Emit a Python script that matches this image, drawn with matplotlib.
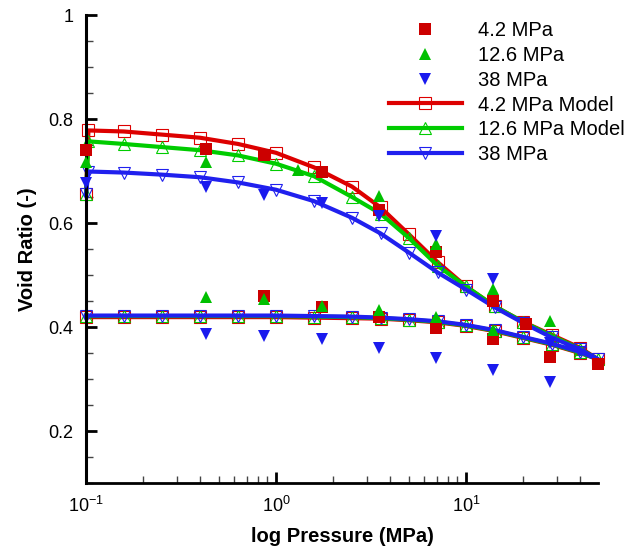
import matplotlib
matplotlib.use("Agg")
import matplotlib.pyplot as plt
from matplotlib.ticker import LogLocator, MultipleLocator, LogFormatterSciNotation

plt.rcParams['font.family'] = ['Liberation Sans', 'DejaVu Sans']
plt.rcParams['mathtext.fontset'] = 'custom'
plt.rcParams['mathtext.rm'] = 'Liberation Sans'

# ---- experimental data (pressure MPa, void ratio) ----
red_P = [0.1, 0.43, 0.86, 1.74, 3.47, 6.93, 13.9, 20.6, 27.8, 49.4, 13.9, 6.93, 3.47, 1.74, 0.86]
red_e = [0.740, 0.743, 0.731, 0.698, 0.625, 0.545, 0.450, 0.406, 0.343, 0.329, 0.377, 0.399, 0.419, 0.439, 0.460]

green_P = [0.1, 0.43, 1.31, 3.47, 6.93, 13.8, 27.7, 13.8, 6.93, 3.47, 1.74, 0.86, 0.43]
green_e = [0.718, 0.717, 0.702, 0.651, 0.560, 0.473, 0.411, 0.394, 0.419, 0.432, 0.441, 0.454, 0.457]

blue_P = [0.1, 0.43, 0.86, 1.74, 3.47, 6.93, 13.8, 27.7, 27.7, 13.8, 6.93, 3.47, 1.74, 0.86, 0.43]
blue_e = [0.676, 0.670, 0.654, 0.638, 0.613, 0.575, 0.492, 0.370, 0.295, 0.318, 0.340, 0.359, 0.376, 0.382, 0.387]

# ---- model curves: loading path then unloading path ----
load_P = [0.1, 0.103, 0.158, 0.251, 0.398, 0.631, 1.0, 1.585, 2.512, 3.548, 5.012, 7.079,
          10.0, 14.13, 19.95, 28.18, 39.81, 49.5]
red_load = [0.655, 0.778, 0.776, 0.770, 0.764, 0.752, 0.735, 0.707, 0.670, 0.630, 0.578, 0.525,
            0.478, 0.440, 0.410, 0.385, 0.360, 0.338]
green_load = [0.655, 0.757, 0.752, 0.746, 0.740, 0.730, 0.714, 0.690, 0.650, 0.618, 0.571, 0.518,
              0.478, 0.440, 0.410, 0.383, 0.358, 0.338]
blue_load = [0.655, 0.699, 0.697, 0.693, 0.688, 0.678, 0.664, 0.642, 0.610, 0.580, 0.543, 0.505,
             0.472, 0.438, 0.408, 0.380, 0.357, 0.338]

unload_P = [39.81, 28.18, 19.95, 14.13, 10.0, 7.079, 5.012, 3.548, 2.512, 1.585, 1.0,
            0.631, 0.398, 0.251, 0.158, 0.1]
red_unload = [0.350, 0.366, 0.379, 0.392, 0.402, 0.409, 0.413, 0.416, 0.417, 0.418, 0.419,
              0.419, 0.419, 0.419, 0.419, 0.419]
green_unload = [0.351, 0.367, 0.380, 0.393, 0.403, 0.410, 0.414, 0.417, 0.419, 0.420, 0.421,
                0.421, 0.421, 0.421, 0.421, 0.421]
blue_unload = [0.352, 0.368, 0.381, 0.394, 0.404, 0.411, 0.415, 0.418, 0.420, 0.421, 0.422,
               0.422, 0.422, 0.422, 0.422, 0.422]

labels = ['4.2 MPa', '12.6 MPa', '38 MPa', '4.2 MPa Model', '12.6 MPa Model', '38 MPa']

RED = '#dd0000'
GREEN = '#00cc00'
BLUE = '#2020ee'

fig = plt.figure(figsize=(6.34, 5.51), dpi=100)
ax = fig.add_axes([86/634, 1-483/551, (598-86)/634, (483-15)/551])

lw = 3.0
mk = dict(markersize=8.5, markerfacecolor='none', markeredgewidth=0.8)
hm, = ax.plot(load_P + unload_P, red_load + red_unload, color=RED, lw=lw, marker='s',
              markeredgecolor=RED, zorder=2, clip_on=False, **mk)
hg, = ax.plot(load_P + unload_P, green_load + green_unload, color=GREEN, lw=lw, marker='^',
              markeredgecolor=GREEN, zorder=2, clip_on=False, **mk)
hb, = ax.plot(load_P + unload_P, blue_load + blue_unload, color=BLUE, lw=lw, marker='v',
              markeredgecolor=BLUE, zorder=2, clip_on=False, **mk)

sr, = ax.plot(red_P, red_e, ls='none', marker='s', markersize=8.5, color='#cc0000',
              markeredgewidth=0, zorder=4, clip_on=False)
sg, = ax.plot(green_P, green_e, ls='none', marker='^', markersize=9, color='#00c000',
              markeredgewidth=0, zorder=4, clip_on=False)
sb, = ax.plot(blue_P, blue_e, ls='none', marker='v', markersize=9, color='#1a1aee',
              markeredgewidth=0, zorder=4, clip_on=False)

ax.set_xscale('log')
ax.set_xlim(0.1, 49.5)
ax.set_ylim(0.1, 1.0)

ax.xaxis.set_major_locator(LogLocator(base=10, numticks=10))
ax.xaxis.set_minor_locator(LogLocator(base=10, subs=range(2, 10), numticks=20))
ax.xaxis.set_major_formatter(LogFormatterSciNotation())
ax.yaxis.set_minor_locator(MultipleLocator(0.05))
ax.set_yticks([0.2, 0.4, 0.6, 0.8, 1.0])
ax.set_yticklabels(['0.2', '0.4', '0.6', '0.8', '1'])

ax.tick_params(which='major', direction='in', length=8, width=2, labelsize=13, color='black')
ax.tick_params(which='minor', direction='in', length=5, width=1, color='#444444')
ax.tick_params(axis='x', which='major', pad=9)
ax.tick_params(axis='y', which='major', pad=9)

for s in ['top', 'right']:
    ax.spines[s].set_visible(False)
ax.spines['left'].set_linewidth(2.2)
ax.spines['bottom'].set_linewidth(2.0)

ax.set_xlabel('log Pressure (MPa)', fontsize=14.5, fontweight='bold', labelpad=8)
ax.set_ylabel('Void Ratio (-)', fontsize=14.5, fontweight='bold', labelpad=8)

leg = fig.legend([sr, sg, sb, hm, hg, hb], labels, loc='upper left',
                 bbox_to_anchor=(389/634, 1-21/551), frameon=False, fontsize=14.5,
                 handlelength=3.6, handletextpad=0.8, labelspacing=0.29, borderpad=0,
                 borderaxespad=0, numpoints=1)

fig.savefig('out.png', dpi=100)
